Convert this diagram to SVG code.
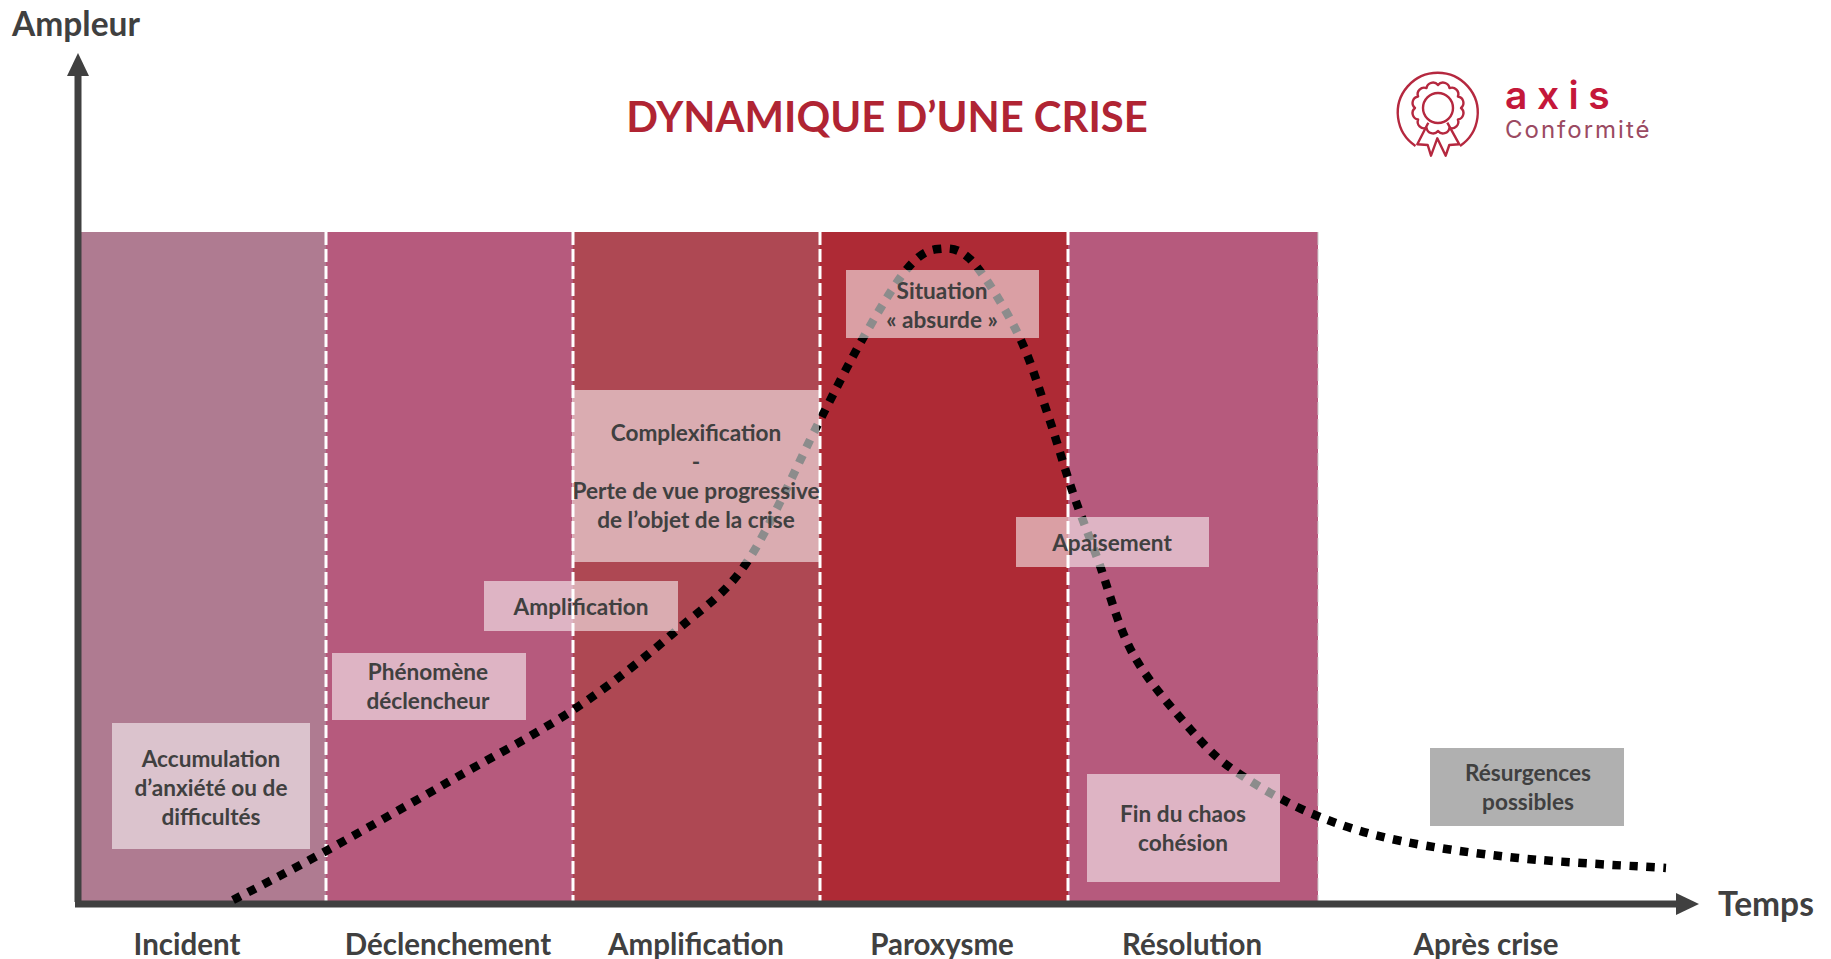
<svg xmlns="http://www.w3.org/2000/svg" width="1831" height="959" viewBox="0 0 1831 959">
<style>
text{font-family:"Lato","Liberation Sans",sans-serif;font-weight:700;fill:#404040;text-anchor:middle}
.lbl{font-size:22.6px}
.phase{font-size:29.5px}
.axis{font-size:33.5px}
.box{fill:#fff;fill-opacity:.55}
.sep{stroke:#fff;stroke-width:3;stroke-dasharray:13 4;fill:none}
.ax{stroke:#404040;stroke-width:7;fill:none}
.logo{fill:none;stroke:#B5283F;stroke-width:2.4;stroke-linejoin:round}
</style>
<defs>
<marker id="head" markerUnits="userSpaceOnUse" markerWidth="24" markerHeight="24" refX="0" refY="12" orient="auto"><path d="M0 1L23 12L0 23Z" fill="#404040"/></marker>
</defs>
<rect width="1831" height="959" fill="#fff"/>
<g id="bands">
<rect x="80" y="232" width="246" height="670" fill="#AF7B91"/>
<rect x="326" y="232" width="247" height="670" fill="#B65A7D"/>
<rect x="573" y="232" width="247" height="670" fill="#AE4853"/>
<rect x="820" y="232" width="248" height="670" fill="#AE2A35"/>
<rect x="1068" y="232" width="250" height="670" fill="#B65A7D"/>
<path class="sep" d="M326 232V902M573 232V902M820 232V902M1068 232V902"/>
<path d="M1318 232V902" stroke="#ccc" stroke-width="1" stroke-dasharray="13 4" fill="none"/>
</g>
<g id="connectors">
<path class="ax" d="M78 902V76" marker-end="url(#head)"/>
<path class="ax" d="M75 904H1676" marker-end="url(#head)"/>
<path id="curve" fill="none" stroke="#000" stroke-width="8.5" stroke-dasharray="8.5 8.5" d="M233 900C248.5 892 290 871 326 851C362 831 409 804.5 450 781C491 757.5 535 735 573 710C611 685 648 655 677 630C706 605 724 596 747 562C770 528 798 463 817 426C836 389 847 366.5 862 340C877 313.5 894.3 284 907 269C919.7 254 927.5 250 938 249C948.5 248 957 247 970 259C983 272 1004 306.3 1017 332C1030 357.7 1037.7 385 1047 412C1056.3 439 1064.5 468.3 1073 493C1081.5 517.7 1088 533 1098 560C1108 587 1117.5 626 1133 654C1148.5 682 1173.5 710 1191 730C1208.5 750 1217.3 759 1238 773C1258.7 787 1288 804 1315 815C1342 826 1367 834 1401 841C1435 848 1475 853.5 1518 858C1561 862.5 1640 866.3 1666 868"/>
</g>
<g id="n-accumulation"><rect class="box" x="112" y="723" width="198" height="126"/><text class="lbl" x="211" y="767">Accumulation</text><text class="lbl" x="211" y="796">d’anxiété ou de</text><text class="lbl" x="211" y="825">difficultés</text></g>
<g id="n-phenomene"><rect class="box" x="332" y="653" width="194" height="67"/><text class="lbl" x="428" y="680">Phénomène</text><text class="lbl" x="428" y="709">déclencheur</text></g>
<g id="n-amplification"><rect class="box" x="484" y="581" width="194" height="50"/><text class="lbl" x="581" y="615">Amplification</text></g>
<g id="n-complexification"><rect class="box" x="572" y="390" width="247" height="172"/><text class="lbl" x="696" y="441">Complexification</text><text class="lbl" x="696" y="470">-</text><text class="lbl" x="696" y="499">Perte de vue progressive</text><text class="lbl" x="696" y="528">de l’objet de la crise</text></g>
<g id="n-situation"><rect class="box" x="846" y="270" width="193" height="68"/><text class="lbl" x="942" y="299">Situation</text><text class="lbl" x="942" y="328">« absurde »</text></g>
<g id="n-apaisement"><rect class="box" x="1016" y="517" width="193" height="50"/><text class="lbl" x="1112" y="551">Apaisement</text></g>
<g id="n-fin"><rect class="box" x="1087" y="774" width="193" height="108"/><text class="lbl" x="1183" y="822">Fin du chaos</text><text class="lbl" x="1183" y="851">cohésion</text></g>
<g id="n-resurgences"><rect x="1430" y="748" width="194" height="78" fill="#B0B0B0"/><text class="lbl" x="1528" y="781">Résurgences</text><text class="lbl" x="1528" y="810">possibles</text></g>
<text class="axis" x="76" y="36">Ampleur</text>
<text class="axis" x="1766" y="916">Temps</text>
<text x="887" y="132" style="font-size:41.8px;fill:#B02433">DYNAMIQUE D’UNE CRISE</text>
<g id="phases">
<text class="phase" x="187" y="955">Incident</text>
<text class="phase" x="448" y="955">Déclenchement</text>
<text class="phase" x="696" y="955">Amplification</text>
<text class="phase" x="942" y="955">Paroxysme</text>
<text class="phase" x="1192" y="955">Résolution</text>
<text class="phase" x="1486" y="955">Après crise</text>
</g>
<g id="logo">
<path class="logo" d="M1415.5 146A40 40 0 1 1 1460 146"/>
<path class="logo" d="M1461 108A6.5 6.5 0 0 0 1457.9 96.5A6.5 6.5 0 0 0 1449.5 88.1A6.5 6.5 0 0 0 1438 85A6.5 6.5 0 0 0 1426.5 88.1A6.5 6.5 0 0 0 1418.1 96.5A6.5 6.5 0 0 0 1415 108A6.5 6.5 0 0 0 1418.1 119.5A6.5 6.5 0 0 0 1426.5 127.9A6.5 6.5 0 0 0 1438 131A6.5 6.5 0 0 0 1449.5 127.9A6.5 6.5 0 0 0 1457.9 119.5A6.5 6.5 0 0 0 1461 108Z"/>
<circle class="logo" cx="1438" cy="108" r="15"/>
<path class="logo" d="M1428.3 122.7L1417.3 144.3L1427.7 145L1431 155.7L1437.3 138.3L1445.7 155.7L1449.3 145L1459.3 144.3L1447.3 122.7"/>
<text x="1505" y="109" style="font-family:Inter,'Liberation Sans',sans-serif;font-size:39px;font-weight:600;fill:#C4183A;text-anchor:start;letter-spacing:9.5px">axis</text>
<text x="1505" y="138" style="font-family:Inter,'Liberation Sans',sans-serif;font-size:24px;font-weight:400;fill:#9B4A62;text-anchor:start;letter-spacing:2px">Conformité</text>
</g>
</svg>
